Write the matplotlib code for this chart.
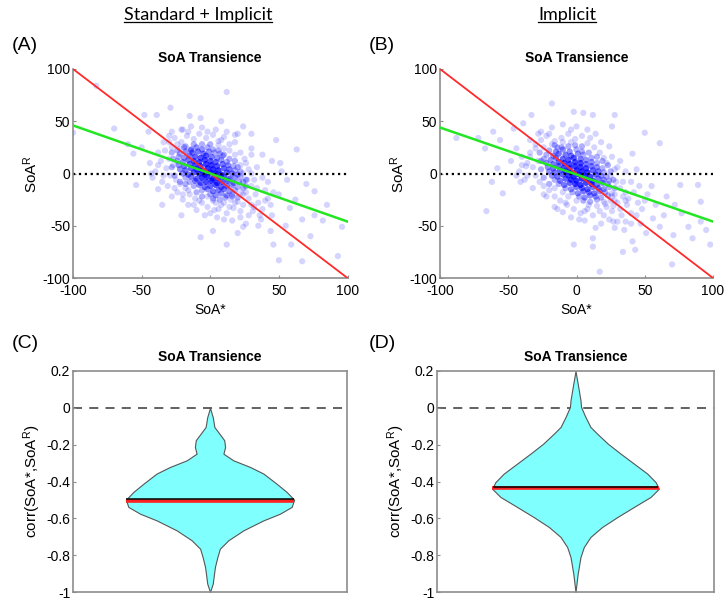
import numpy as np
import matplotlib
matplotlib.use('Agg')
import matplotlib.pyplot as plt
from matplotlib.lines import Line2D

plt.rcParams['font.family'] = ['Liberation Sans', 'DejaVu Sans']
plt.rcParams['mathtext.fontset'] = 'custom'
plt.rcParams['mathtext.rm'] = 'Liberation Sans'
plt.rcParams['mathtext.it'] = 'Liberation Sans'
plt.rcParams['axes.unicode_minus'] = False

# ---- scatter data (SoA*, SoA^R, overlap count) ----
# panel A : Standard + Implicit
a_core = [
    (-19,25,2),(-14,23,3),(-10,25,3),(-6,23,3),(-2,25,2),(2,23,2),
    (-22,19,2),(-18,21,3),(-13,20,4),(-9,21,4),(-5,19,4),(-1,21,3),(3,20,2),(7,19,2),
    (-23,16,2),(-19,15,3),(-15,17,4),(-11,16,5),(-7,15,6),(-3,17,6),(1,16,4),(5,15,3),(9,17,2),
    (-24,12,2),(-20,11,3),(-16,13,4),(-12,12,6),(-8,11,7),(-4,13,7),(0,12,6),(4,11,5),(8,13,3),(12,11,2),
    (-23,8,3),(-19,7,4),(-15,9,5),(-11,8,7),(-7,7,8),(-3,9,8),(1,8,8),(5,7,6),(9,9,4),(13,8,3),(17,7,2),
    (-22,4,3),(-18,3,4),(-14,5,5),(-10,4,7),(-6,3,8),(-2,5,9),(2,4,9),(6,3,8),(10,5,5),(14,4,4),(18,3,2),
    (-20,0,3),(-16,-1,4),(-12,1,6),(-8,0,8),(-4,-1,9),(0,1,10),(4,0,9),(8,-1,8),(12,1,5),(16,0,4),(20,-1,3),
    (-18,-4,2),(-14,-3,4),(-10,-5,5),(-6,-4,8),(-2,-3,9),(2,-5,9),(6,-4,8),(10,-3,6),(14,-5,5),(18,-4,3),(22,-3,2),
    (-15,-8,2),(-11,-7,4),(-7,-9,5),(-3,-8,7),(1,-7,8),(5,-9,8),(9,-8,6),(13,-7,5),(17,-9,3),(21,-8,2),
    (-12,-12,2),(-8,-11,3),(-4,-13,4),(0,-12,5),(4,-11,6),(8,-13,5),(12,-12,4),(16,-11,3),(20,-13,2),
    (-6,-16,2),(-2,-15,3),(2,-17,4),(6,-16,4),(10,-15,4),(14,-17,3),(18,-16,2),
    (0,-20,2),(4,-21,3),(8,-19,3),(12,-21,3),(16,-20,2),(22,-19,1),
    (2,-24,2),(7,-25,2),(11,-23,2),(15,-25,1),
    (-28,20,2),(-27,14,2),(-28,6,2),(-26,-2,2),(-22,-8,2),(-18,-10,2),(-16,-16,1),(-10,-18,2),
    (-6,-22,2),(-2,-22,1),(4,-28,1),(10,-28,1),(18,-28,1),(20,-23,2),(24,-20,1),(26,-12,2),
    (26,-6,2),(24,-8,2),(22,2,2),(20,6,2),(18,12,2),(14,14,2),(10,18,2),(6,22,2),(0,28,2),
    (-6,28,2),(-12,28,2),(-18,26,2),(-24,22,2),(16,-22,2),(-14,22,2),(24,-14,2),
]
a_halo = [
    (-30,30),(-26,34),(-21,30),(-17,36),(-12,33),(-8,38),(-3,34),(2,37),(6,31),(10,35),(14,28),
    (-33,22),(-28,25),(-24,28),(-30,14),(-27,8),(-32,5),(-29,-2),(-25,-6),(-22,-10),(-18,-14),
    (-15,-20),(-11,-24),(-6,-28),(-2,-32),(3,-35),(8,-30),(12,-38),(17,-33),(20,-27),(24,-30),
    (28,-24),(26,-18),(30,-12),(27,-6),(24,0),(28,4),(22,8),(25,14),(18,18),(14,22),(10,24),(6,27),
    (33,-20),(35,-28),(31,-36),(22,-42),(16,-45),(5,-42),(-4,-40),(-10,-35),(-16,-30),(-20,-25),
    (-36,12),(-38,20),(-40,2),(-35,-8),(-44,10),(-28,40),(-20,42),(-14,45),(-6,44),(4,42),(12,40),
    (18,30),(30,18),(34,6),(38,-4),(40,-16),(42,-24),(38,-34),(28,-40),(-24,-18),(-12,-30),(2,-26),
    (30,24),(20,38),(-34,30),(-30,36),(-22,24),(-34,-2),(-31,-12),(-26,-14),(-20,-20),(-8,-26),
    (6,-34),(14,-32),(22,-36),(30,-30),(34,-14),(32,-6),(30,0),(26,10),(22,20),(8,32),(-2,40),
    (-16,40),(-38,8),(-42,-4),(0,-38),(10,-44),(26,-48),(36,-40),(44,-30),(46,-18),(42,-8),
    (12,78),(-83,84),(-29,63),(-48,56),(-39,56),(-70,43),(-100,39),(-56,19),(-54,-11),(-43,0),
    (-7,53),(-21,42),(24,45),(18,37),(48,32),(63,23),(51,10),(56,-6),(76,-17),(76,-40),(67,-44),
    (73,-60),(93,-79),(96,-51),(67,-84),(50,-83),(46,-68),(59,-68),(-7,-61),(12,-68),(2,-55),
    (-21,-40),(20,-57),(37,-44),(32,-32),(58,-33),(24,-51),(44,-55),(40,-26),(50,-20),(45,-40),
    (55,-50),(62,-25),(35,-50),(-35,-30),(-38,-15),(-50,25),(-45,40),(-60,28),(8,50),(-15,55),
    (30,38),(45,12),(52,2),(82,-45),(85,-30),(70,-10),(38,18),(-28,-22),
]
# panel B : Implicit
b_core = [
    (-16,27,2),(-11,25,2),(-6,26,2),(-1,27,2),
    (-20,22,2),(-15,21,3),(-10,23,3),(-5,21,3),(0,23,2),(4,21,2),
    (-22,18,2),(-17,17,3),(-13,19,4),(-8,18,4),(-4,17,4),(1,19,3),(5,18,2),
    (-24,14,2),(-19,13,3),(-15,15,4),(-10,14,5),(-6,13,6),(-2,15,6),(3,14,4),(7,13,3),(11,15,2),
    (-22,10,3),(-17,9,4),(-13,11,5),(-9,10,7),(-5,9,7),(-1,11,7),(3,10,7),(7,9,4),(11,11,3),(15,10,2),
    (-21,6,3),(-17,5,4),(-13,7,5),(-9,6,7),(-5,5,8),(-1,7,8),(3,6,8),(7,5,7),(11,7,4),(15,6,3),(19,5,2),
    (-20,2,3),(-16,1,4),(-12,3,5),(-8,2,7),(-4,1,9),(0,3,9),(4,2,9),(8,1,8),(12,3,5),(16,2,4),(20,1,2),
    (-18,-2,3),(-14,-3,4),(-10,-1,5),(-6,-2,8),(-2,-3,10),(2,-1,10),(6,-2,9),(10,-3,7),(14,-1,5),(18,-2,3),(22,-3,2),
    (-16,-6,2),(-12,-7,4),(-8,-5,5),(-4,-6,8),(0,-7,9),(4,-5,9),(8,-6,8),(12,-7,7),(16,-5,4),(20,-6,3),(24,-7,2),
    (-13,-10,2),(-9,-11,4),(-5,-9,5),(-1,-10,7),(3,-11,8),(7,-9,7),(11,-10,7),(15,-11,4),(19,-9,3),(23,-10,2),
    (-8,-14,2),(-4,-15,3),(0,-13,4),(4,-14,5),(8,-15,5),(12,-13,4),(16,-14,4),(20,-15,3),(24,-13,2),
    (-3,-18,2),(1,-19,3),(5,-17,4),(9,-18,4),(13,-19,4),(17,-17,3),(21,-18,2),(26,-19,1),
    (2,-22,2),(6,-23,3),(10,-21,3),(14,-22,3),(18,-23,2),(23,-21,2),
    (5,-26,2),(10,-27,2),(15,-25,2),(20,-27,1),(25,-26,1),
    (9,-30,1),(15,-31,1),(21,-29,1),(27,-31,1),
    (-27,20,2),(-26,12,2),(-26,4,2),(-24,-4,2),(-20,-10,2),(-16,-14,1),(-10,-18,1),(-6,-22,1),
    (0,-26,1),(26,-22,1),(28,-14,2),(27,-6,2),(25,2,2),(23,8,2),(19,12,2),(15,16,2),(9,20,2),
    (4,26,2),(-4,30,1),(-10,30,1),(-18,28,1),(-24,25,1),(28,-26,1),(-14,25,2),
]
b_halo = [
    (-30,28),(-26,32),(-22,36),(-16,31),(-11,34),(-6,38),(-1,33),(4,36),(8,29),(13,25),(17,20),
    (-34,20),(-30,24),(-28,12),(-32,6),(-30,-2),(-27,-8),(-24,-12),(-20,-16),(-16,-22),(-12,-26),
    (-7,-30),(-2,-34),(3,-38),(8,-34),(12,-40),(17,-36),(22,-32),(26,-36),(30,-28),(28,-20),
    (32,-14),(29,-8),(25,-2),(28,4),(22,10),(20,15),(34,-22),(37,-30),(33,-40),(24,-44),(18,-48),
    (6,-45),(-4,-42),(-10,-37),(-16,-32),(-36,10),(-40,16),(-42,2),(-38,-6),(-26,40),(-18,44),
    (-10,47),(0,45),(8,42),(14,38),(24,26),(32,12),(36,2),(40,-8),(42,-18),(45,-28),(40,-38),
    (30,-46),(-22,-22),(-14,-34),(36,-46),(44,-40),(48,-34),(38,-24),(18,30),(-44,24),(-48,12),
    (-34,32),(-28,38),(-36,-2),(-32,-14),(-24,-20),(-8,-28),(6,-36),(20,-40),(32,-34),(36,-18),
    (34,-8),(30,6),(26,16),(10,34),(-4,42),(-20,38),(-40,8),(-44,-2),(2,-44),(14,-52),(28,-52),
    (40,-48),(50,-26),(46,-12),(36,-26),
    (-18,67),(5,58),(12,56),(26,45),(28,56),(-2,59),(-33,56),(-39,48),(-46,43),(-61,40),(-72,34),
    (-88,34),(-56,32),(-67,24),(-58,5),(-62,-8),(-54,-19),(-66,-36),(-41,-8),(-37,7),(-34,16),
    (50,39),(61,29),(41,19),(76,-11),(89,-11),(91,-27),(77,-38),(91,-46),(82,-51),(95,-54),
    (98,-68),(85,-62),(71,-59),(70,-87),(43,-73),(41,-65),(34,-75),(17,-94),(12,-70),(-2,-68),
    (12,-62),(56,-43),(61,-51),(51,-57),(35,-54),(27,-46),(52,-20),(58,-30),(64,-40),(47,-48),
    (55,-12),(66,-22),(72,-30),(44,4),
]
# regression lines (slope, intercept)
fit_a = (-0.46, 0.0)
fit_b = (-0.45, -1.0)

# ---- violin outlines (corr value, half width) ----
c_y = [0.0, -0.05, -0.104, -0.14, -0.176, -0.213, -0.249, -0.285, -0.321, -0.357, -0.412,
       -0.457, -0.499, -0.538, -0.575, -0.611, -0.665, -0.719, -0.765, -0.81, -0.864, -0.955, -1.0]
c_w = [0.0, 0.010, 0.016, 0.034, 0.052, 0.055, 0.049, 0.085, 0.146, 0.195, 0.243,
       0.280, 0.307, 0.298, 0.255, 0.195, 0.122, 0.067, 0.036, 0.027, 0.018, 0.010, 0.0]
d_y = [0.2, 0.113, 0.041, 0.005, -0.05, -0.104, -0.14, -0.195, -0.249, -0.303, -0.357,
       -0.403, -0.439, -0.484, -0.538, -0.593, -0.647, -0.701, -0.756, -0.81, -0.9, -1.0]
d_w = [0.0, 0.010, 0.018, 0.020, 0.036, 0.054, 0.078, 0.117, 0.163, 0.211, 0.259,
       0.289, 0.301, 0.271, 0.211, 0.151, 0.096, 0.054, 0.030, 0.018, 0.008, 0.0]
c_mean, c_median = -0.497, -0.505
d_mean, d_median = -0.432, -0.438

W, H = 725, 600
fig = plt.figure(figsize=(W / 100, H / 100), dpi=100)

def rect(l, r, t, b):
    return [l / W, 1 - b / H, (r - l) / W, (b - t) / H]

ax_a = fig.add_axes(rect(73, 347.5, 69, 278))
ax_b = fig.add_axes(rect(440, 713, 69, 278))
ax_c = fig.add_axes(rect(73, 347, 371, 592))
ax_d = fig.add_axes(rect(437, 714, 371, 592))

spine_col = '#8c8c8c'

def scatter_panel(ax, core, halo, fit):
    base = 0.17
    pts = [(x, y, n) for x, y, n in core] + [(x, y, 1) for x, y in halo]
    xs = np.array([p[0] for p in pts], float)
    ys = np.array([p[1] for p in pts], float)
    ns = np.array([p[2] for p in pts], float)
    cols = np.zeros((len(pts), 4))
    cols[:, 2] = 1.0
    cols[:, 3] = 1 - (1 - base) ** ns
    ax.scatter(xs, ys, s=20, c=cols, edgecolors='none', zorder=1)
    lx = np.array([-100, 100])
    ax.plot(lx, [0, 0], color='black', ls=':', lw=1.6, zorder=2)
    ax.plot(lx, -lx, color='#ff2a2a', lw=1.3, zorder=3)
    ax.plot(lx, fit[0] * lx + fit[1], color='#22e622', lw=1.8, zorder=4)
    ax.set_xlim(-100, 100)
    ax.set_ylim(-100, 100)
    ax.set_xticks([-100, -50, 0, 50, 100])
    ax.set_yticks([-100, -50, 0, 50, 100])
    for s in ['top', 'right']:
        ax.spines[s].set_visible(False)
    for s in ['left', 'bottom']:
        ax.spines[s].set_color(spine_col)
        ax.spines[s].set_linewidth(1.2)
    ax.tick_params(direction='in', length=2.5, color=spine_col, labelsize=10, pad=2)
    ax.tick_params(axis='x', pad=4)
    ax.set_xlabel('SoA*', fontsize=10, labelpad=4)
    ax.set_ylabel('SoA$^{\\mathrm{R}}$', fontsize=11, labelpad=2)
    ax.set_title('SoA Transience', fontsize=10, fontweight='bold', pad=5)

def violin_panel(ax, vy, vw, mean, median):
    vy = np.array(vy)
    vw = np.array(vw)
    ax.plot([0.5, 1.5], [0, 0], color='#555555', lw=1.3, ls=(0, (5, 4)), zorder=1)
    ax.fill_betweenx(vy, 1 - vw, 1 + vw, facecolor='#80ffff', edgecolor='#555555', lw=0.8, zorder=2)
    wm = np.interp(-median, -vy, vw)
    ax.plot([1 - wm, 1 + wm], [median, median], color='#ff2020', lw=2.6, zorder=3, solid_capstyle='butt')
    wn = np.interp(-mean, -vy, vw)
    ax.plot([1 - wn, 1 + wn], [mean, mean], color='black', lw=1.1, zorder=4, solid_capstyle='butt')
    ax.set_xlim(0.5, 1.5)
    ax.set_ylim(-1, 0.2)
    ax.set_xticks([])
    ax.set_yticks([0.2, 0, -0.2, -0.4, -0.6, -0.8, -1])
    ax.set_yticklabels(['0.2', '0', '-0.2', '-0.4', '-0.6', '-0.8', '-1'])
    for s in ax.spines.values():
        s.set_color(spine_col)
        s.set_linewidth(1.2)
    ax.tick_params(direction='in', length=2.5, color=spine_col, labelsize=10, pad=2)
    ax.set_ylabel('corr(SoA*,SoA$^{\\mathrm{R}}$)', fontsize=11, labelpad=2)
    ax.set_title('SoA Transience', fontsize=10, fontweight='bold', pad=7)

scatter_panel(ax_a, a_core, a_halo, fit_a)
scatter_panel(ax_b, b_core, b_halo, fit_b)
violin_panel(ax_c, c_y, c_w, c_mean, c_median)
violin_panel(ax_d, d_y, d_w, d_mean, d_median)

for lab, x, y in [('(A)', 25, 45), ('(B)', 382, 45), ('(C)', 25, 343), ('(D)', 382, 343)]:
    fig.text(x / W, 1 - y / H, lab, fontsize=14, ha='center', va='center')

heads = []
for lab, x in [('Standard + Implicit', 198), ('Implicit', 567)]:
    heads.append(fig.text(x / W, 1 - 15 / H, lab, fontsize=13, ha='center', va='center',
                          family=['Lato', 'DejaVu Sans']))

fig.canvas.draw()
r = fig.canvas.get_renderer()
for t in heads:
    bb = t.get_window_extent(r)
    yl = bb.y0 + 1
    fig.add_artist(Line2D([bb.x0 / W, bb.x1 / W], [yl / H, yl / H], color='black', lw=0.9,
                          transform=fig.transFigure))

fig.savefig('out.png', dpi=100)
